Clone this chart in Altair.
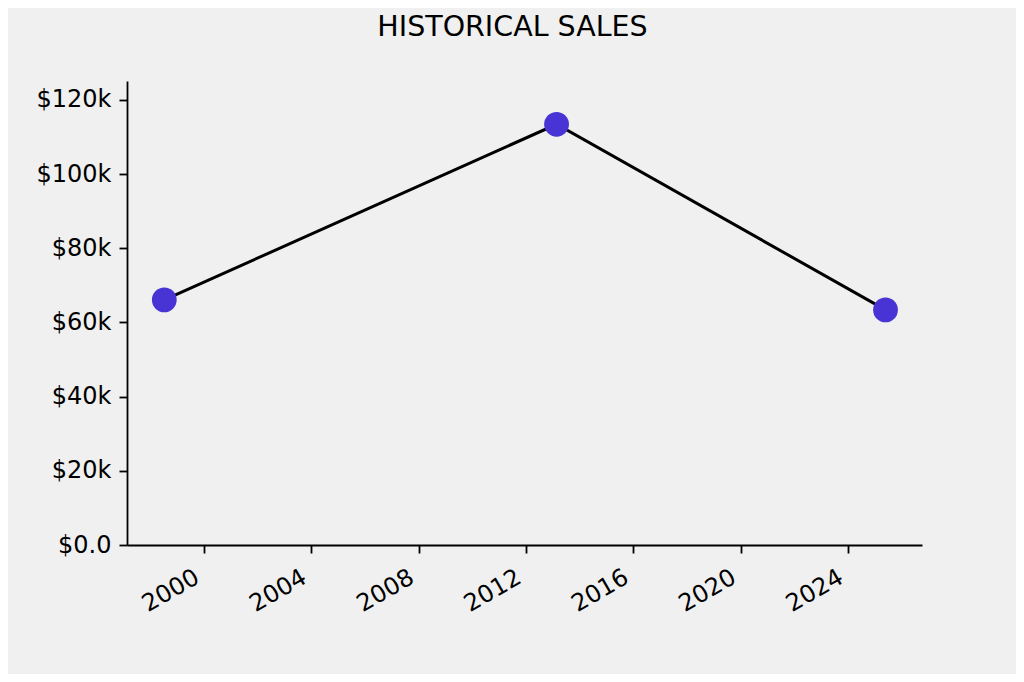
import altair as alt
import pandas as pd

years = [1998.52, 2013.14, 2025.40]
sales = [66100, 113450, 63400]
x_ticks = [2000, 2004, 2008, 2012, 2016, 2020, 2024]
y_ticks = [0, 20000, 40000, 60000, 80000, 100000, 120000]

df = pd.DataFrame({"year": years, "sales": sales})

FONT = "DejaVu Sans"

x_enc = alt.X(
    "year:Q",
    scale=alt.Scale(domain=[1997.13, 2026.76], nice=False, zero=False),
    axis=alt.Axis(
        values=x_ticks, format="d", title=None, grid=False,
        labelAngle=-30, labelAlign="right", labelBaseline="top",
        labelPadding=12, labelOffset=-13, tickSize=8, labelFlush=False,
        labelOverlap=False,
    ),
)
y_enc = alt.Y(
    "sales:Q",
    scale=alt.Scale(domain=[0, 125120], nice=False),
    axis=alt.Axis(
        values=y_ticks, title=None, grid=False, tickSize=8, labelPadding=8,
        labelExpr="datum.value == 0 ? '$0.0' : '$' + format(datum.value / 1000, 'd') + 'k'",
    ),
)

base = alt.Chart(df).encode(x=x_enc, y=y_enc)
line = base.mark_line(color="black", strokeWidth=3)
pts = base.mark_circle(color="#4834d4", size=615, opacity=1)

chart = (
    alt.layer(line, pts)
    .properties(
        width=795, height=464,
        title=alt.TitleParams(
            "HISTORICAL SALES", font=FONT, fontSize=28.5, fontWeight="normal",
            color="black", anchor="middle", dx=-12, offset=17, baseline="alphabetic",
        ),
        background="#f0f0f0",
        padding={"left": 119, "top": 73, "right": 94, "bottom": 129},
        autosize=alt.AutoSizeParams(type="none"),
    )
    .configure_view(stroke=None)
    .configure_axis(
        labelFont=FONT, labelFontSize=24, labelColor="black",
        domainColor="black", domainWidth=1.8, tickColor="black", tickWidth=1.8,
    )
)

chart.save("out.html", embed_options={"renderer": "svg", "actions": False})
